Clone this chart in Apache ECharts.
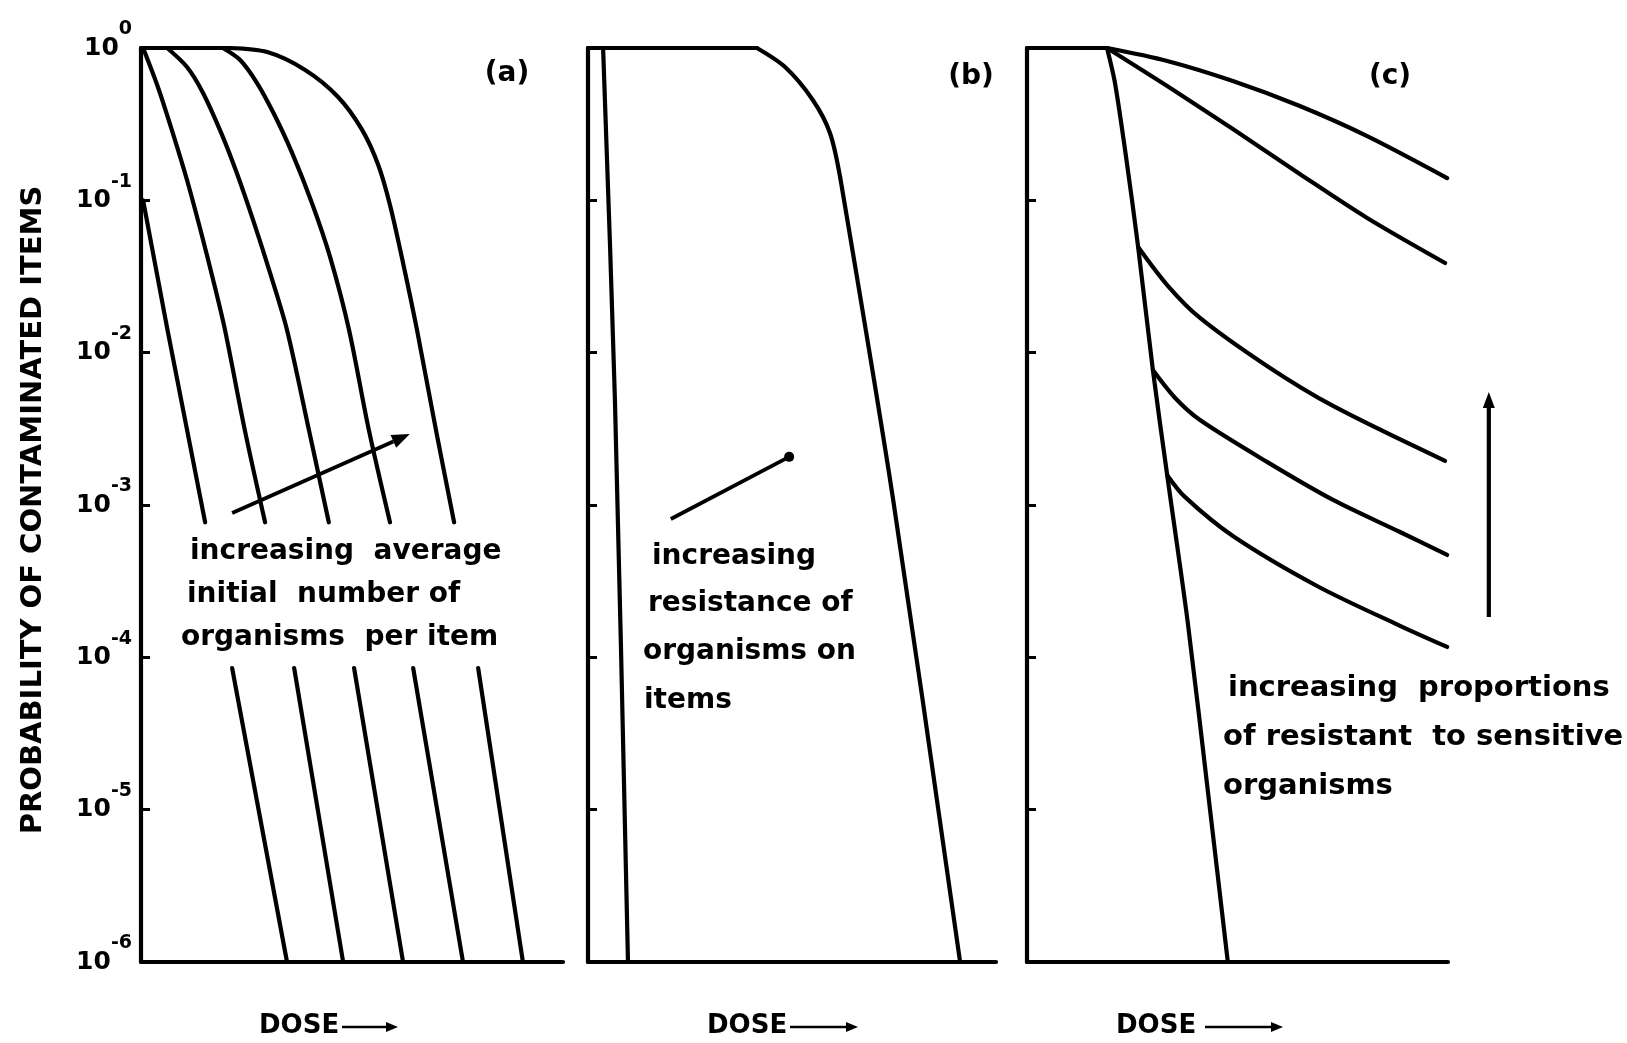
<!DOCTYPE html>
<html>
<head>
<meta charset="utf-8">
<title>Probability of contaminated items against dose</title>
<script src="https://cdn.jsdelivr.net/npm/echarts@6/dist/echarts.min.js"></script>
<style>
  html, body { margin: 0; padding: 0; background: #fff; }
  #chart { width: 1627px; height: 1043px; }
</style>
</head>
<body>
<div id="chart"></div>
<script>
// dose runs 0-100 (arbitrary units) across every panel, probability is on a log axis

// (a) increasing average initial number of organisms per item
var aTop = [[0, 1], [20.4, 1]]
var a1Upper = [[0.5, 1e-1], [6.3, 1.4e-2], [15.2, 7.7e-4]]
var a1Lower = [[21.6, 8.5e-5], [34.6, 1e-6]]
var a2Upper = [[0.5, 1], [4.0, 0.555], [7.3, 0.29], [10.9, 0.136], [14.1, 0.0638], [17.1, 0.030], [19.9, 0.0141], [24.6, 0.0031], [29.4, 7.7e-4]]
var a2Lower = [[36.3, 8.5e-5], [47.9, 1e-6]]
var a3Upper = [[6.2, 1], [10.9, 0.75], [14.7, 0.507], [19.0, 0.277], [22.7, 0.151], [26.8, 0.0709], [30.6, 0.0333], [34.6, 0.0141], [39.8, 0.0031], [44.5, 7.7e-4]]
var a3Lower = [[50.5, 8.5e-5], [62.1, 1e-6]]
var a4Upper = [[19.4, 1], [23.5, 0.834], [27.5, 0.589], [31.4, 0.374], [35.8, 0.205], [40.5, 0.096], [44.8, 0.0425], [49.3, 0.0141], [54.0, 0.0031], [59.0, 7.7e-4]]
var a4Lower = [[64.5, 8.5e-5], [76.3, 1e-6]]
var a5Upper = [[20.4, 1], [29.9, 0.94], [38.9, 0.717], [46.7, 0.477], [52.4, 0.29], [56.2, 0.171], [59.0, 0.0932], [62.1, 0.0388], [65.4, 0.0141], [69.9, 0.0031], [74.2, 7.7e-4]]
var a5Lower = [[79.9, 8.5e-5], [90.5, 1e-6]]

// (b) increasing resistance of organisms on items
var bTop = [[0, 1], [41.4, 1]]
var b1 = [[3.7, 1], [6.6, 4.9e-3], [9.8, 1e-6]]
var b2Shoulder = [[41.4, 1], [48.3, 0.75], [55.1, 0.456], [59.3, 0.277], [61.8, 0.142]]
var b2Slope = [[61.8, 0.142], [74.8, 1.08e-3], [91.2, 1e-6]]

// (c) increasing proportions of resistant to sensitive organisms
var cTop = [[0, 1], [19.0, 1]]
var c1 = [[19.0, 1], [33.3, 0.822], [48.9, 0.607], [64.8, 0.416], [80.8, 0.264], [99.8, 0.140]]
var c2 = [[19.0, 1], [33.3, 0.563], [48.9, 0.294], [64.8, 0.149], [80.8, 0.0766], [99.3, 0.0388]]
var c3 = [[19.0, 1], [20.9, 0.589], [23.5, 0.195], [26.4, 0.0494], [29.9, 0.00769], [33.3, 1.57e-3], [38.2, 1.68e-4], [43.2, 1.16e-5], [47.7, 1e-6]]
var c4 = [[26.4, 0.0494], [33.3, 0.0278], [41.1, 0.0169], [57.0, 0.00818], [72.7, 0.00447], [99.3, 0.00195]]
var c5 = [[29.9, 0.00769], [35.2, 0.00504], [41.1, 0.00361], [57.0, 0.00192], [72.7, 1.08e-3], [88.6, 6.65e-4], [99.8, 4.70e-4]]
var c6 = [[33.3, 1.57e-3], [37.5, 1.13e-3], [48.9, 6.26e-4], [68.9, 2.94e-4], [88.6, 1.61e-4], [99.8, 1.17e-4]]

// annotation arrows, in dose / probability
var arrowA = [[21.6, 8.85e-4], [63.7, 2.92e-3]]
var lineB = [[20.3, 8.09e-4], [49.3, 2.07e-3]]
var arrowC = [[109.7, 1.84e-4], [109.7, 5.52e-3]]

var yTickExp = ['0', '-1', '-2', '-3', '-4', '-5', '-6']

var FONT = '"DejaVu Sans", sans-serif'
var LINE_W = 4.2
var chart = echarts.init(document.getElementById('chart'))

function curve(data, i, smooth) {
  return {
    type: 'line',
    xAxisIndex: i,
    yAxisIndex: i,
    data: data,
    symbol: 'none',
    smooth: smooth ? 0.3 : false,
    silent: true,
    lineStyle: { color: '#000', width: LINE_W, cap: 'round', join: 'round' },
  }
}

var grids = [
  { left: 141, top: 48, width: 422, height: 914 },
  { left: 588, top: 48, width: 408, height: 914 },
  { left: 1027, top: 48, width: 421, height: 914 },
]

var option = {
  animation: false,
  backgroundColor: '#fff',
  grid: grids,
  xAxis: grids.map(function (g, i) {
    return {
      type: 'value',
      gridIndex: i,
      min: 0,
      max: 100,
      axisLine: { show: true, onZero: false, lineStyle: { color: '#000', width: LINE_W } },
      axisTick: { show: false },
      axisLabel: { show: false },
      splitLine: { show: false },
    }
  }),
  yAxis: grids.map(function (g, i) {
    return {
      type: 'log',
      logBase: 10,
      gridIndex: i,
      min: 1e-6,
      max: 1,
      axisLine: { show: true, lineStyle: { color: '#000', width: LINE_W } },
      axisTick: { show: true, inside: true, length: 9, lineStyle: { color: '#000', width: 3 } },
      splitLine: { show: false },
      axisLabel: {
        show: i === 0,
        margin: 9,
        showMinLabel: true,
        showMaxLabel: true,
        formatter: function (v) {
          var e = Math.round(Math.log(v) / Math.LN10)
          return '{b|10}{s|' + yTickExp[-e] + '}'
        },
        rich: {
          b: { fontSize: 25, fontWeight: 'bold', fontFamily: FONT, color: '#000', lineHeight: 56 },
          s: { fontSize: 19, fontWeight: 'bold', fontFamily: FONT, color: '#000', verticalAlign: 'top' },
        },
      },
    }
  }),
  series: [
    curve(aTop, 0), curve(a1Upper, 0), curve(a1Lower, 0),
    curve(a2Upper, 0, true), curve(a2Lower, 0),
    curve(a3Upper, 0, true), curve(a3Lower, 0),
    curve(a4Upper, 0, true), curve(a4Lower, 0),
    curve(a5Upper, 0, true), curve(a5Lower, 0),
    curve(bTop, 1), curve(b1, 1, true), curve(b2Shoulder, 1, true), curve(b2Slope, 1, true),
    curve(cTop, 2), curve(c1, 2, true), curve(c2, 2, true), curve(c3, 2, true),
    curve(c4, 2, true), curve(c5, 2, true), curve(c6, 2, true),
  ],
}
chart.setOption(option)

function text(x, y, str, size, align, rotation) {
  return {
    type: 'text',
    x: x,
    y: y,
    rotation: rotation || 0,
    silent: true,
    style: {
      text: str,
      fill: '#000',
      font: 'bold ' + size + 'px ' + FONT,
      align: align || 'left',
      verticalAlign: 'middle',
      textAlign: align || 'left',
      textVerticalAlign: 'middle',
    },
  }
}

function arrow(p0, p1, width, headLen, headW) {
  var dx = p1[0] - p0[0]
  var dy = p1[1] - p0[1]
  var len = Math.sqrt(dx * dx + dy * dy)
  var ux = dx / len
  var uy = dy / len
  var bx = p1[0] - ux * headLen
  var by = p1[1] - uy * headLen
  return [
    { type: 'line', silent: true, shape: { x1: p0[0], y1: p0[1], x2: bx, y2: by }, style: { stroke: '#000', lineWidth: width } },
    {
      type: 'polygon',
      silent: true,
      shape: { points: [[p1[0], p1[1]], [bx - uy * headW, by + ux * headW], [bx + uy * headW, by - ux * headW]] },
      style: { fill: '#000' },
    },
  ]
}

function px(i, p) {
  return chart.convertToPixel({ gridIndex: i }, p)
}

var bStart = px(1, lineB[0])
var bEnd = px(1, lineB[1])

var elements = [
  text(33, 510, 'PROBABILITY OF CONTAMINATED ITEMS', 29, 'center', Math.PI / 2),
  text(507, 74, '(a)', 28, 'center'),
  text(971, 77, '(b)', 28, 'center'),
  text(1390, 77, '(c)', 28, 'center'),

  text(190, 552, 'increasing  average', 28),
  text(187, 595, 'initial  number of', 28),
  text(181, 638, 'organisms  per item', 28),

  text(652, 557, 'increasing', 28),
  text(648, 604, 'resistance of', 28),
  text(643, 652, 'organisms on', 28),
  text(644, 701, 'items', 28),

  text(1228, 688, 'increasing  proportions', 29),
  text(1223, 737, 'of resistant  to sensitive', 29),
  text(1223, 786, 'organisms', 29),

  text(259, 1026, 'DOSE', 26),
  text(707, 1026, 'DOSE', 26),
  text(1116, 1026, 'DOSE', 26),
  { type: 'line', silent: true, shape: { x1: bStart[0], y1: bStart[1], x2: bEnd[0], y2: bEnd[1] }, style: { stroke: '#000', lineWidth: 3.8 } },
  { type: 'circle', silent: true, shape: { cx: bEnd[0], cy: bEnd[1], r: 5 }, style: { fill: '#000' } },
]
elements = elements
  .concat(arrow(px(0, arrowA[0]), px(0, arrowA[1]), 3.8, 18, 7))
  .concat(arrow(px(2, arrowC[0]), px(2, arrowC[1]), 4.2, 16, 6))
  .concat(arrow([342, 1027], [398, 1027], 2.5, 12, 5))
  .concat(arrow([790, 1027], [858, 1027], 2.5, 12, 5))
  .concat(arrow([1205, 1027], [1283, 1027], 2.5, 12, 5))

chart.setOption({ graphic: { elements: elements } })
</script>
</body>
</html>
